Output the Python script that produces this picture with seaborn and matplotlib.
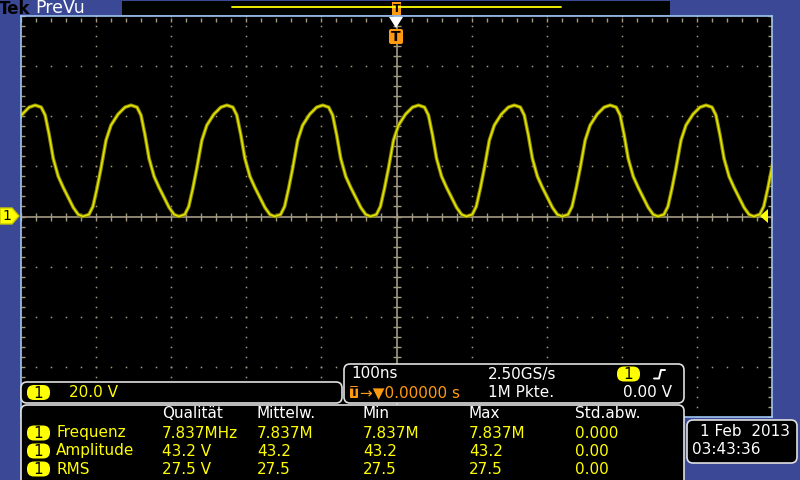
"""
Tek PreVu oscilloscope screen: 7.837 MHz signal, 20 V/div, 100 ns/div
"""

import numpy as np
import pandas as pd
import matplotlib
matplotlib.use('Agg')
import matplotlib.pyplot as plt
from matplotlib.patches import FancyBboxPatch, Rectangle, Polygon
import seaborn as sns

sns.set_style('dark')
plt.rcParams['font.family'] = ['DejaVu Sans']

# --- data ---
# one period of the trace, time after the trough (ns) and voltage (V)
cycle_t = [0, 8, 13.3, 18.7, 24, 30.7, 37.3, 46.7, 56, 64, 72, 77.3, 82.7, 88, 94.7, 101.3, 108, 114.7, 121.3]
cycle_v = [0.0, 0.8, 4.0, 11.2, 19.2, 30.4, 36.4, 40.8, 43.6, 44.4, 43.6, 40.4, 32.4, 23.2, 16.0, 11.6, 7.6, 3.6, 0.8]
freq_mhz = 7.837
trough_ns = -34.7          # trough closest to the trigger point
time_per_div = 100         # ns
volt_per_div = 20          # V

meas_header = ['Qualität', 'Mittelw.', 'Min', 'Max', 'Std.abw.']
meas_names = ['Frequenz', 'Amplitude', 'RMS']
meas_freq = ['7.837MHz', '7.837M', '7.837M', '7.837M', '0.000']
meas_ampl = ['43.2 V', '43.2', '43.2', '43.2', '0.00']
meas_rms = ['27.5 V', '27.5', '27.5', '27.5', '0.00']

BLUE = '#3a4896'
YEL = '#ffff00'
TRACE = '#e6e600'
GRID = '#a49a82'
ORANGE = '#ff9a10'
EDGE = '#9ec6f0'

# build the trace by repeating the read period
period = 1000.0 / freq_mhz
ts, vs = [], []
for k in range(-5, 6):
    for t, v in zip(cycle_t, cycle_v):
        ts.append(trough_ns + k * period + t)
        vs.append(v)
df = pd.DataFrame({'t': ts, 'v': vs})
df = df[(df['t'] > -520) & (df['t'] < 520)]

fig = plt.figure(figsize=(8, 4.8), dpi=100, facecolor=BLUE)

# scope graticule
ax = fig.add_axes([21 / 800, 1 - 417 / 480, 751 / 800, 401 / 480])
ax.set_facecolor('black')
ax.set_xlim(-5 * time_per_div, 5 * time_per_div)
ax.set_ylim(-4 * volt_per_div, 4 * volt_per_div)
ax.set_xticks([])
ax.set_yticks([])
ax.grid(False)
for s in ax.spines.values():
    s.set_color(EDGE)
    s.set_linewidth(1.2)

# dotted major grid
minor_t = np.arange(-500, 501, 20)
minor_v = np.arange(-80, 81, 4)
for xt in range(-400, 401, 100):
    if xt == 0:
        continue
    ax.plot(np.full(len(minor_v), xt), minor_v, ls='none', marker='s', ms=1.1, color=GRID, mew=0)
for yv in [-60, -40, -20, 20, 40, 60]:
    ax.plot(minor_t, np.full(len(minor_t), yv), ls='none', marker='s', ms=1.1, color=GRID, mew=0)

# center crosshair with ticks
ax.axhline(0, color=GRID, lw=1.2)
ax.axvline(0, color=GRID, lw=1.2)
ax.plot(minor_t, np.zeros(len(minor_t)), ls='none', marker='|', ms=6, mew=1, color=GRID)
ax.plot(np.zeros(len(minor_v)), minor_v, ls='none', marker='_', ms=6, mew=1, color=GRID)

# edge ticks
ax.plot(minor_t, np.full(len(minor_t), 78.5), ls='none', marker='|', ms=2.5, mew=1, color=GRID)
ax.plot(np.full(len(minor_v), -497), minor_v, ls='none', marker='_', ms=2.5, mew=1, color=GRID)
ax.plot(np.full(len(minor_v), 497), minor_v, ls='none', marker='_', ms=2.5, mew=1, color=GRID)

# the trace
sns.lineplot(data=df, x='t', y='v', ax=ax, color='#8c8c00', lw=2.6, estimator=None, sort=False)
sns.lineplot(data=df, x='t', y='v', ax=ax, color=TRACE, lw=1.1, estimator=None, sort=False)
ax.set_xlabel('')
ax.set_ylabel('')

# overlay in screen pixels for the readouts
ov = fig.add_axes([0, 0, 1, 1], facecolor='none')
ov.set_xlim(0, 800)
ov.set_ylim(480, 0)
ov.axis('off')


def box(x0, y0, x1, y1, fc='black', ec='#e0e0e0', r=6, lw=1.2):
    ov.add_patch(FancyBboxPatch((x0 + r, y0 + r), x1 - x0 - 2 * r, y1 - y0 - 2 * r,
                                boxstyle=f'round,pad={r}', fc=fc, ec=ec, lw=lw))


def badge(x, y):
    ov.add_patch(FancyBboxPatch((x + 7, y - 0.5), 9, 1, boxstyle='round,pad=7',
                                fc=YEL, ec='none'))
    ov.text(x + 11.5, y + 0.5, '1', color='black', fontsize=11, ha='center', va='center')


def txt(x, y, s, c='white', ha='left', **kw):
    ov.text(x, y, s, color=c, fontsize=11, ha=ha, va='center', **kw)


# top bar
ov.text(-1, 8.5, 'Tek', color='black', fontsize=12, fontweight='bold', va='center')
ov.text(35, 8, 'PreVu', color='white', fontsize=12.5, va='center')
ov.add_patch(Rectangle((122, 1), 548, 14, fc='#000400', ec='none'))
ov.plot([232, 561], [7, 7], color=YEL, lw=1.3)
ov.add_patch(Rectangle((392, 2), 9, 13, fc=ORANGE, ec='none'))
ov.text(396.5, 8.5, 'T', color='black', fontsize=8, ha='center', va='center', fontweight='bold')

# trigger position marker
ov.add_patch(Polygon([[389, 17], [403, 17], [396, 28]], fc='white', ec='none'))
ov.add_patch(FancyBboxPatch((391, 31), 10, 11, boxstyle='round,pad=2', fc=ORANGE, ec='none'))
ov.text(396, 37, 'T', color='black', fontsize=10, ha='center', va='center', fontweight='bold')

# channel 1 ground marker and trigger level marker
ov.add_patch(Polygon([[0, 208], [12, 208], [19, 216], [12, 224], [0, 224]], fc=YEL, ec='#c8c800'))
ov.text(7, 216.5, '1', color='black', fontsize=10, ha='center', va='center')
ov.add_patch(Polygon([[768, 209], [768, 223], [760, 216]], fc=YEL, ec='none'))

# vertical scale readout
box(21, 382, 342, 403)
badge(27, 392.5)
txt(69, 392.5, '20.0 V', YEL)

# timebase / trigger readout
box(344, 364, 684, 403)
txt(351, 374, '100ns')
txt(488, 374, '2.50GS/s')
badge(617, 374)
ov.plot([654, 659, 661, 665], [378.5, 378.5, 370, 370], color='white', lw=1.4)
ov.add_patch(FancyBboxPatch((351, 387), 6, 10, boxstyle='round,pad=1', fc=ORANGE, ec='none'))
ov.text(354, 392.5, 'T', color='black', fontsize=9, ha='center', va='center', fontweight='bold')
txt(360, 392.5, '→▼0.00000 s', ORANGE)
txt(488, 392.5, '1M Pkte.')
txt(672, 392.5, '0.00 V', ha='right')

# measurement table
box(21, 405, 684, 490)
col_x = [162, 257, 363, 469, 575]
for x, h in zip(col_x, meas_header):
    txt(x, 414, h)
for row_y, name, vals in zip([433, 451, 469], meas_names, [meas_freq, meas_ampl, meas_rms]):
    badge(27, row_y)
    txt(56, row_y, name, YEL)
    for x, v in zip(col_x, vals):
        txt(x, row_y, v, YEL)

# date / time
box(687, 420, 797, 463)
txt(700, 431, '1 Feb  2013')
txt(692, 449, '03:43:36')

plt.savefig('out.png', dpi=100, facecolor=BLUE)
